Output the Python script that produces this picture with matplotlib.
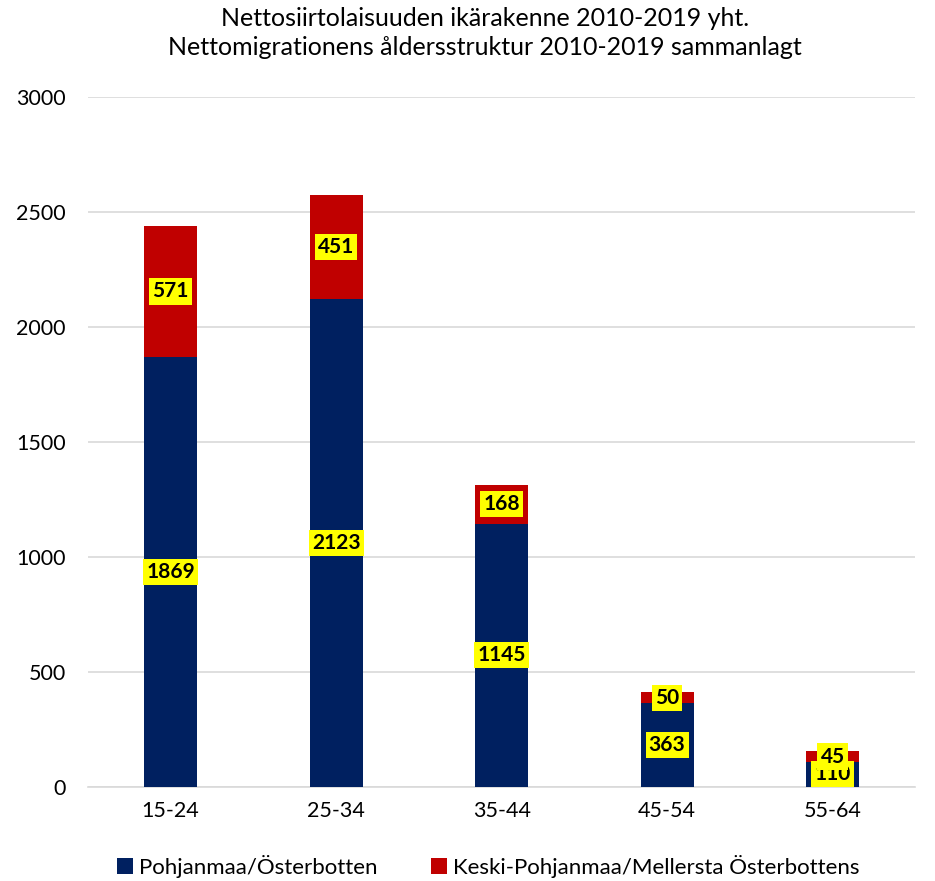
import matplotlib
matplotlib.use("Agg")
import matplotlib.pyplot as plt
import numpy as np

categories = ["15-24", "25-34", "35-44", "45-54", "55-64"]
pohjanmaa = [1869, 2123, 1145, 363, 110]
keski = [571, 451, 168, 50, 45]
series_names = ["Pohjanmaa/Österbotten", "Keski-Pohjanmaa/Mellersta Österbottens"]
title_lines = ["Nettosiirtolaisuuden ikärakenne 2010-2019 yht.",
               "Nettomigrationens åldersstruktur 2010-2019 sammanlagt"]

plt.rcParams['font.family'] = ['Lato', 'DejaVu Sans']

fig = plt.figure(figsize=(9.35, 8.81), dpi=100)
ax = fig.add_axes([0.094, 0.1067, 0.885, 0.7833])

x = np.arange(len(categories))
w = 0.32
c1 = "#002060"
c2 = "#C00000"
b1 = ax.bar(x, pohjanmaa, w, color=c1, label=series_names[0], zorder=3)
b2 = ax.bar(x, keski, w, bottom=pohjanmaa, color=c2, label=series_names[1], zorder=3)

for xi, p, k in zip(x, pohjanmaa, keski):
    ax.text(xi, p / 2, str(p), ha="center", va="center", fontsize=15, fontweight="bold",
            color="black", zorder=5,
            bbox=dict(boxstyle="square,pad=0.15", fc="#FFFF00", ec="none"))
    ax.text(xi, p + k / 2, str(k), ha="center", va="center", fontsize=15, fontweight="bold",
            color="black", zorder=5,
            bbox=dict(boxstyle="square,pad=0.15", fc="#FFFF00", ec="none"))

ax.set_xlim(-0.5, 4.5)
ax.set_ylim(0, 3000)
ax.set_yticks(np.arange(0, 3001, 500))
ax.set_xticks(x)
ax.set_xticklabels(categories)
ax.grid(axis="y", color="#D9D9D9", linewidth=1.2, zorder=0)
for s in ax.spines.values():
    s.set_visible(False)
ax.spines["bottom"].set_visible(True)
ax.spines["bottom"].set_color("#D9D9D9")
ax.spines["bottom"].set_linewidth(1.2)
ax.tick_params(axis="both", length=0, labelsize=15.5, colors="black")
ax.tick_params(axis="x", pad=10)
ax.tick_params(axis="y", pad=16)

fig.text(0.519, 0.979, title_lines[0], ha="center", va="center", fontsize=18)
fig.text(0.519, 0.946, title_lines[1], ha="center", va="center", fontsize=18)

leg = fig.legend(handles=[b1, b2], loc="center", bbox_to_anchor=(0.522, 0.017), ncol=2,
                 frameon=False, fontsize=16, handlelength=0.75, handleheight=0.75,
                 handletextpad=0.25, columnspacing=2.4)

fig.savefig("out.png", dpi=100)
